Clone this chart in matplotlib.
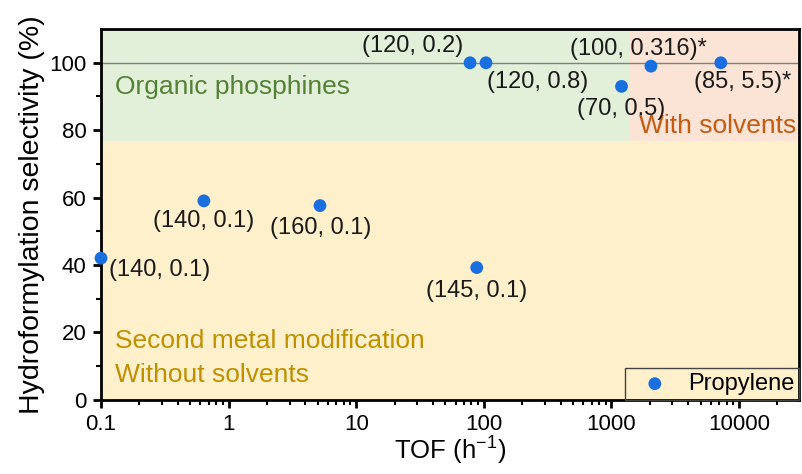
import numpy as np
import matplotlib
matplotlib.use('Agg')
from matplotlib import pyplot as plt
from matplotlib.ticker import LogLocator, FixedLocator, NullFormatter

plt.rcParams['font.family'] = ['Liberation Sans', 'DejaVu Sans']
plt.rcParams['mathtext.default'] = 'regular'

# data: TOF (h^-1), selectivity (%), label (T, P)
tof = [0.1, 0.64, 5.2, 88, 78, 104, 1200, 2040, 7200]
sel = [42, 59, 57.6, 39.2, 100, 100, 93, 99, 100]
labels = ['(140, 0.1)', '(140, 0.1)', '(160, 0.1)', '(145, 0.1)', '(120, 0.2)',
          '(120, 0.8)', '(70, 0.5)', '(100, 0.316)*', '(85, 5.5)*']
# label offsets in points (dx, dy) and horizontal alignment
offsets = [(5.8, -8.6), (-36.7, -14.4), (-36, -16), (-36.7, -16.6), (-5, 12.2),
           (0.7, -14), (-32, -16), (-58, 12.4), (-19.4, -14)]
aligns = ['left', 'left', 'left', 'left', 'right', 'left', 'left', 'left', 'left']

fig = plt.figure(figsize=(8.03, 4.74), dpi=100)
ax = fig.add_axes([0.1258, 0.157, 0.8692, 0.7816])

xmin, xmax = 0.1, 29500
ymin, ymax = 0, 110
split_y = 76.8
split_x = 1400

# background regions
ax.axhspan(ymin, split_y, color='#FFF0CC', zorder=0, lw=0)
ax.fill_between([xmin, split_x], split_y, ymax, color='#E2EFD9', zorder=0, lw=0)
ax.fill_between([split_x, xmax], split_y, ymax, color='#FBE4D5', zorder=0, lw=0)
ax.axhline(100, color='#808080', lw=1, zorder=1)

ax.scatter(tof, sel, s=85, c='#1A6FE0', edgecolors='none', zorder=3,
           label='Propylene', clip_on=False)
for x, y, t, (dx, dy), ha in zip(tof, sel, labels, offsets, aligns):
    ax.annotate(t, (x, y), xytext=(dx, dy), textcoords='offset points',
                ha=ha, va='center', fontsize=17, color='#1a1a1a', zorder=4)

ax.text(0.129, 92.7, 'Organic phosphines', fontsize=19, color='#548235', va='center')
ax.text(28000, 81.2, 'With solvents', fontsize=19, color='#C55A11', ha='right', va='center')
ax.text(0.129, 17.3, 'Second metal modification', fontsize=19, color='#BF9000', va='center')
ax.text(0.129, 7.4, 'Without solvents', fontsize=19, color='#BF9000', va='center')

ax.set_xscale('log')
ax.set_xlim(xmin, xmax)
ax.set_ylim(ymin, ymax)
ax.set_xticks([0.1, 1, 10, 100, 1000, 10000])
ax.set_xticklabels(['0.1', '1', '10', '100', '1000', '10000'])
ax.xaxis.set_minor_locator(LogLocator(base=10, subs=np.arange(2, 10), numticks=20))
ax.xaxis.set_minor_formatter(NullFormatter())
ax.set_yticks([0, 20, 40, 60, 80, 100])
ax.yaxis.set_minor_locator(FixedLocator([10, 30, 50, 70, 90]))

for s in ax.spines.values():
    s.set_linewidth(2)
ax.tick_params(which='major', direction='out', length=5.5, width=2, labelsize=16, pad=5)
ax.tick_params(which='minor', direction='out', length=3.5, width=1.5)
ax.tick_params(top=False, right=False, which='both')

ax.set_xlabel('TOF (h$^{-1}$)', fontsize=18.5, labelpad=0)
ax.set_ylabel('Hydroformylation selectivity (%)', fontsize=20.5, labelpad=3)

leg = ax.legend(loc='lower right', fontsize=17, frameon=True, fancybox=False,
                borderaxespad=0, handletextpad=0.35, borderpad=0.2,
                handlelength=2.1, markerscale=1.0)
leg.get_frame().set_facecolor('none')
leg.get_frame().set_edgecolor('#444444')
leg.get_frame().set_linewidth(1)
leg.get_frame().set_alpha(None)

fig.savefig('out.png', dpi=100)
